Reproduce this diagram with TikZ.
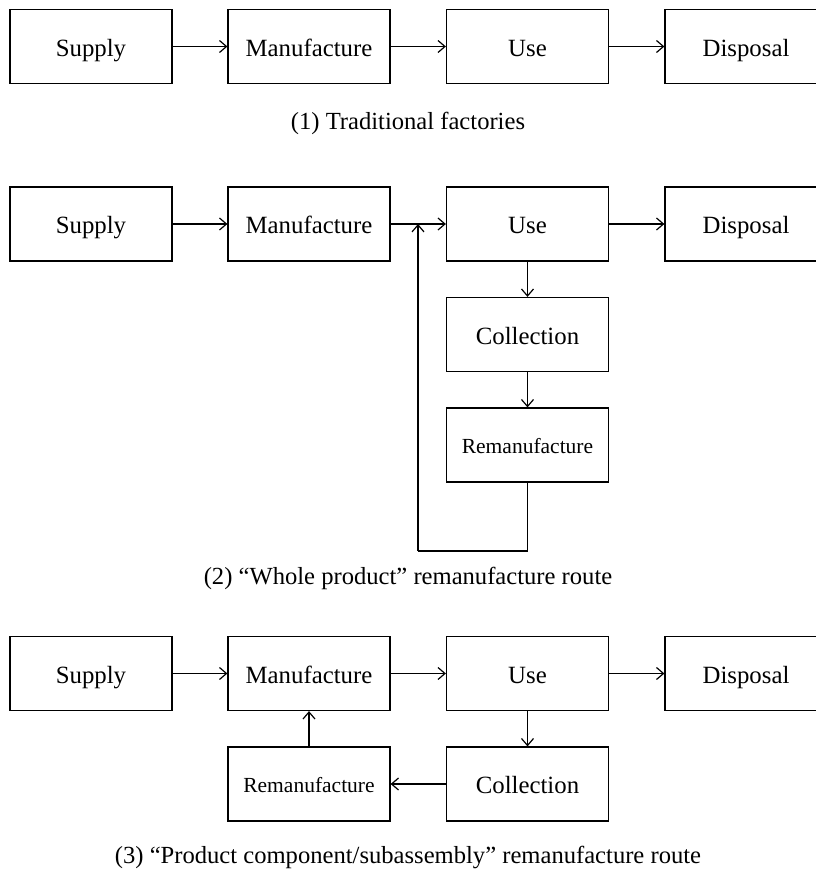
\documentclass[tikz,border=0pt]{standalone}
\usepackage{fontspec}
\setmainfont{Liberation Serif}
\usetikzlibrary{arrows.meta}
\begin{document}
\begin{tikzpicture}[x=1pt,y=-1pt,
  box/.style={draw, line width=1.2pt, minimum width=162pt, minimum height=74pt, inner sep=0pt, text height=22pt, text depth=3pt, font=\fontsize{24.8}{28}\selectfont},
  smallbox/.style={box, text height=19pt, text depth=3pt, font=\fontsize{21.5}{24}\selectfont},
  arr/.style={draw, line width=1.2pt, -{Straight Barb[length=7pt,width=12pt,line width=1.2pt]}},
  ln/.style={draw, line width=1.2pt},
  captext/.style={font=\fontsize{24.6}{28}\selectfont, inner sep=0pt, text height=17pt, text depth=5pt}]
\useasboundingbox (0,0) rectangle (816,886);
% Row 1
\node[box] (s1) at (91,46.5) {Supply};
\node[box] (m1) at (309,46.5) {Manufacture};
\node[box] (u1) at (527.5,46.5) {Use};
\node[box] (d1) at (746,46.5) {Disposal};
\draw[arr] (s1) -- (m1);
\draw[arr] (m1) -- (u1);
\draw[arr] (u1) -- (d1);
\node[captext] (c1) at (408,123) {(1) Traditional factories};
% Row 2
\node[box] (s2) at (91,224) {Supply};
\node[box] (m2) at (309,224) {Manufacture};
\node[box] (u2) at (527.5,224) {Use};
\node[box] (d2) at (746,224) {Disposal};
\node[box] (col2) at (527.5,334.5) {Collection};
\node[smallbox] (r2) at (527.5,445) {Remanufacture};
\coordinate (j2) at (418,224);
\coordinate (b2) at (418,551);
\draw[arr] (s2) -- (m2);
\draw[arr] (m2) -- (u2);
\draw[arr] (u2) -- (d2);
\draw[arr] (u2) -- (col2);
\draw[arr] (col2) -- (r2);
\draw[ln] (r2.south) |- (b2);
\draw[arr] (b2) -- (j2);
\node[captext] (c2) at (408,578) {(2) ``Whole product'' remanufacture route};
% Row 3
\node[box] (s3) at (91,673.5) {Supply};
\node[box] (m3) at (309,673.5) {Manufacture};
\node[box] (u3) at (527.5,673.5) {Use};
\node[box] (d3) at (746,673.5) {Disposal};
\node[box] (col3) at (527.5,784) {Collection};
\node[smallbox] (r3) at (309,784) {Remanufacture};
\draw[arr] (s3) -- (m3);
\draw[arr] (m3) -- (u3);
\draw[arr] (u3) -- (d3);
\draw[arr] (u3) -- (col3);
\draw[arr] (col3) -- (r3);
\draw[arr] (r3) -- (m3);
\node[captext] (c3) at (408,857) {(3) ``Product component/subassembly'' remanufacture route};
\end{tikzpicture}
\end{document}
